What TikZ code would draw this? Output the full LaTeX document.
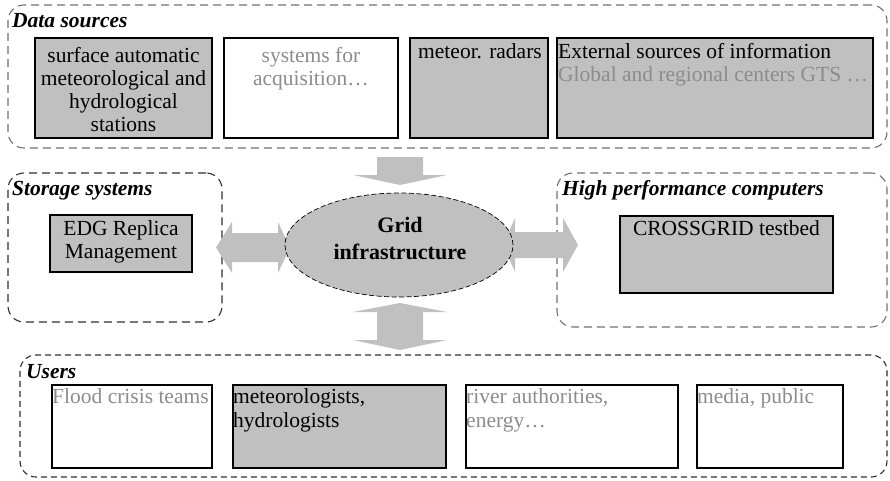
\documentclass[tikz,border=0pt]{standalone}
\usepackage{fontspec}
\setmainfont{Liberation Serif}
\usetikzlibrary{shapes.geometric}
\definecolor{fillgray}{HTML}{C0C0C0}
\definecolor{textgray}{HTML}{8C8C8C}
\definecolor{dashgray}{HTML}{707070}
\definecolor{dashdark}{HTML}{303030}

\begin{document}
\begin{tikzpicture}[x=1pt,y=-1pt,
  group/.style={draw=#1, dash pattern=on 8pt off 5pt, line width=1.1pt,
    rounded corners=16pt, inner sep=0pt, outer sep=0pt},
  group/.default=dashgray,
  grouptitle/.style={anchor=base west, inner sep=0pt,
    font=\fontsize{21.5}{23}\selectfont\bfseries\itshape},
  thickbox/.style={draw=black, line width=2.6pt, inner sep=0pt, outer sep=0pt},
  thinbox/.style={draw=black, line width=1.3pt, inner sep=0pt, outer sep=0pt},
  shaded/.style={fill=fillgray},
  blank/.style={fill=white},
  boxtext/.style={inner sep=0pt, font=\fontsize{21.5}{23}\selectfont},
  usertext/.style={inner sep=0pt, align=left, anchor=north west,
    font=\fontsize{21.5}{24}\selectfont},
  dim/.style={text=textgray},
  bigarrow/.style={fill=fillgray, draw=none},
]
\useasboundingbox (0,0) rectangle (890,480);

% ---- group frames ----
\node[group, minimum width=879, minimum height=143] (ds) at (447.5,76.5) {};
\node[group=dashdark, minimum width=214, minimum height=149] (st) at (115,247.5) {};
\node[group, minimum width=330, minimum height=154] (hpc) at (722,250) {};
\node[group=dashdark, dash pattern=on 6pt off 4pt, minimum width=867, minimum height=122] (us) at (453.5,416) {};

\node[grouptitle] (dsT) at (12,27) {Data sources};
\node[grouptitle] (stT) at (12,195) {Storage systems};
\node[grouptitle] (hpcT) at (562,195) {High performance computers};
\node[grouptitle] (usT) at (26,378) {Users};

% ---- data sources ----
\node[thickbox, shaded, minimum width=177, minimum height=100] (b1) at (123.5,88) {};
\node[thickbox, blank,  minimum width=174, minimum height=100] (b2) at (311,88) {};
\node[thickbox, shaded, minimum width=138, minimum height=100] (b3) at (479,88) {};
\node[thickbox, shaded, minimum width=316, minimum height=100] (b4) at (715,88) {};

\node[boxtext, align=center, anchor=north] (b1t) at (123.5,47.3)
  {surface automatic\\meteorological and\\hydrological\\stations};
\node[boxtext, dim, align=center, anchor=north] (b2t) at (311,47.3)
  {systems for\\acquisition…};
\node[boxtext, anchor=north] (b3t) at (480,43.6) {meteor. radars};
\node[boxtext, align=left, anchor=north west] (b4t) at (558,43.6)
  {External sources of information\\\textcolor{textgray}{Global and regional centers GTS …}};

% ---- storage / HPC ----
\node[thinbox, shaded, minimum width=142, minimum height=57] (edg) at (121,243.5) {};
\node[boxtext, align=center, anchor=north] (edgt) at (121,220.3) {EDG Replica\\Management};
\node[thinbox, shaded, minimum width=213, minimum height=77] (cg) at (726.5,254.5) {};
\node[boxtext, anchor=north] (cgt) at (726.5,220.3) {CROSSGRID testbed};

% ---- block arrows around the grid ----
\fill[bigarrow] (377,157) -- (423,157) -- (423,175) -- (447,175) -- (400,185)
  -- (353,175) -- (377,175) -- cycle;
\fill[bigarrow] (400,303) -- (447,312) -- (423,312) -- (423,340) -- (447,340)
  -- (400,350) -- (353,340) -- (377,340) -- (377,312) -- (353,312) -- cycle;
\fill[bigarrow] (216,247.5) -- (232,222) -- (232,233) -- (278,233) -- (278,222)
  -- (290,247.5) -- (278,273) -- (278,262) -- (232,262) -- (232,273) -- cycle;
\fill[bigarrow] (503,245) -- (515,218) -- (515,232) -- (563,232) -- (563,218)
  -- (578,245) -- (563,272) -- (563,258) -- (515,258) -- (515,272) -- cycle;

% ---- grid infrastructure ----
\node[ellipse, fill=fillgray, draw=black, line width=0.7pt, dash pattern=on 5pt off 2.5pt,
  minimum width=228, minimum height=104, inner sep=0pt] (grid) at (399,245) {};
\node[inner sep=0pt, align=center, anchor=north,
  font=\fontsize{22}{27}\selectfont\bfseries] (gridt) at (400,217) {Grid\\infrastructure};

% ---- users ----
\node[thickbox, blank,  minimum width=160, minimum height=83] (u1) at (132,426.5) {};
\node[thickbox, shaded, minimum width=213, minimum height=83] (u2) at (339.5,426.5) {};
\node[thickbox, blank,  minimum width=212, minimum height=83] (u3) at (572,426.5) {};
\node[thickbox, blank,  minimum width=146, minimum height=83] (u4) at (770,426.5) {};

\node[usertext, dim] (u1t) at (52,388.3) {Flood crisis teams};
\node[usertext] (u2t) at (233,388.3) {meteorologists,\\hydrologists};
\node[usertext, dim] (u3t) at (466,388.3) {river authorities,\\energy…};
\node[usertext, dim] (u4t) at (697,388.3) {media, public};
\end{tikzpicture}
\end{document}
